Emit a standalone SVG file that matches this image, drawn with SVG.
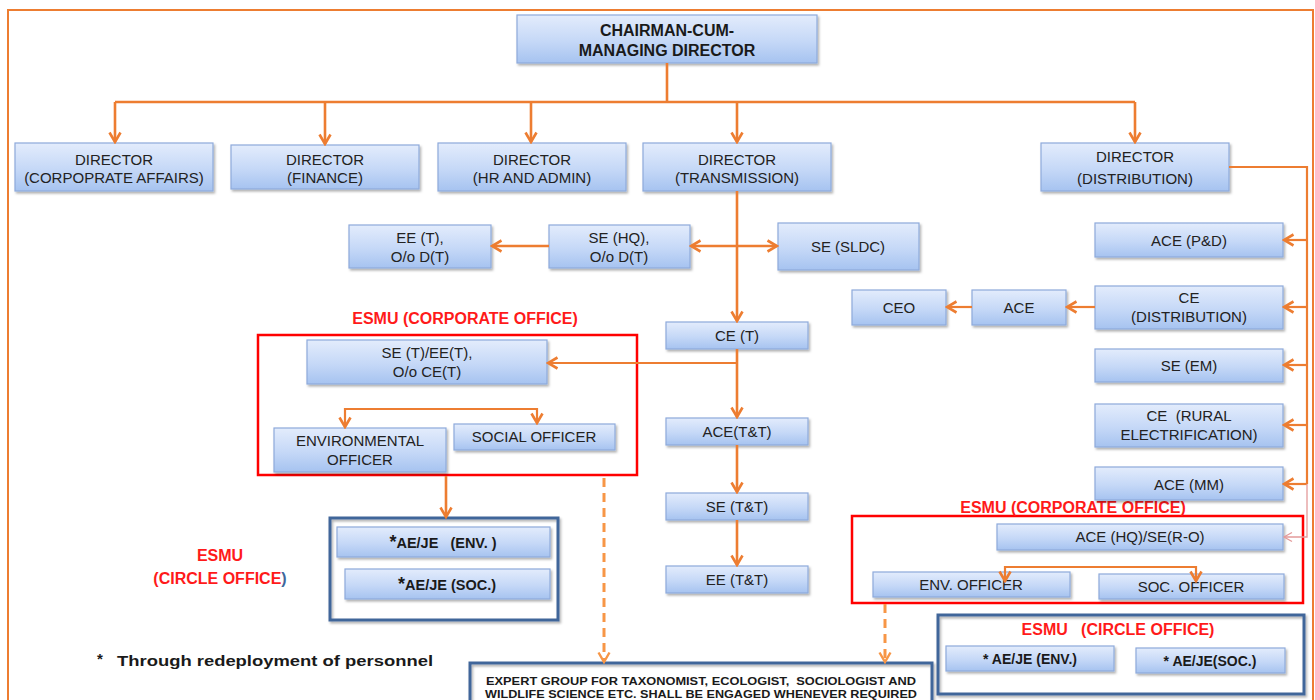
<svg xmlns="http://www.w3.org/2000/svg" width="1315" height="700" viewBox="0 0 1315 700">
<defs>
<linearGradient id="bx" x1="0" y1="0" x2="0" y2="1">
<stop offset="0" stop-color="#e3ecfc"/>
<stop offset="0.55" stop-color="#c5d8f7"/>
<stop offset="1" stop-color="#a6c3f0"/>
</linearGradient>
<filter id="sh" x="-10%" y="-20%" width="125%" height="150%">
<feDropShadow dx="1.5" dy="2" stdDeviation="1.2" flood-color="#000" flood-opacity="0.3"/>
</filter>
<marker id="ar" viewBox="0 0 14 14" refX="12" refY="7" markerWidth="14" markerHeight="14" markerUnits="userSpaceOnUse" orient="auto-start-reverse">
<path d="M2.5,1.5 L12,7 L2.5,12.5" fill="none" stroke="#ED7D31" stroke-width="2.6"/>
</marker>
<marker id="ard" viewBox="0 0 14 14" refX="12" refY="7" markerWidth="14" markerHeight="14" markerUnits="userSpaceOnUse" orient="auto">
<path d="M2.5,1.5 L12,7 L2.5,12.5" fill="none" stroke="#F79646" stroke-width="2.4"/>
</marker>
<marker id="arp" viewBox="0 0 12 12" refX="10" refY="6" markerWidth="12" markerHeight="12" markerUnits="userSpaceOnUse" orient="auto">
<path d="M2,1.5 L10,6 L2,10.5" fill="none" stroke="#e49a9a" stroke-width="1.3"/>
</marker>
</defs>
<style>
.b{fill:url(#bx);stroke:#8eaadb;stroke-width:1.2;filter:url(#sh)}
.t{font-family:"Liberation Sans",Arial,sans-serif;fill:#222;text-anchor:middle;font-size:15px}
.tb{font-family:"Liberation Sans",Arial,sans-serif;fill:#1a1a1a;text-anchor:middle;font-weight:bold}
.ts{font-family:"Liberation Sans",Arial,sans-serif;fill:#1a1a1a;text-anchor:start;font-weight:bold}
.red{font-family:"Liberation Sans",Arial,sans-serif;fill:#ff1a1a;text-anchor:middle;font-weight:bold;font-size:16px}
.c{fill:none;stroke:#ED7D31;stroke-width:2.6}
.ct{fill:none;stroke:#ED7D31;stroke-width:2.2}
.cd{fill:none;stroke:#F79646;stroke-width:3;stroke-dasharray:9,6}
.rb{fill:none;stroke:#ff0000;stroke-width:2.5}
.bb{fill:none;stroke:#41669a;stroke-width:3;filter:url(#sh)}
</style>
<rect width="1315" height="700" fill="#ffffff"/>
<rect x="8" y="10" width="1305" height="700" fill="none" stroke="#ED7D31" stroke-width="2"/>

<g id="esmu-frames">
<rect class="rb" x="258" y="335" width="379" height="140"/>
<text class="red" x="465" y="324">ESMU (CORPORATE OFFICE)</text>
<rect class="bb" x="330" y="518" width="228" height="102"/>
<text class="red" x="220" y="561">ESMU</text>
<text class="red" x="220" y="584">(CIRCLE OFFICE<tspan fill="#41669a">)</tspan></text>
<rect class="rb" x="852" y="516" width="451" height="87"/>
<text class="red" x="1073" y="513">ESMU (CORPORATE OFFICE)</text>
<rect class="bb" x="938" y="615" width="366" height="79"/>
<text class="red" x="1118" y="635" xml:space="preserve">ESMU   (CIRCLE OFFICE)</text>
</g>

<g id="cmd"><rect class="b" x="517" y="15" width="300" height="48"/>
<text class="tb" x="667" y="36" font-size="16">CHAIRMAN-CUM-</text>
<text class="tb" x="667" y="56" font-size="16">MANAGING DIRECTOR</text></g>

<g id="dir-ca"><rect class="b" x="15" y="143" width="198" height="48"/>
<text class="t" x="114" y="165" font-size="16">DIRECTOR</text>
<text class="t" x="114" y="183" font-size="12">(CORPOPRATE AFFAIRS)</text></g>
<g id="dir-fin"><rect class="b" x="231" y="145" width="188" height="44"/>
<text class="t" x="325" y="165" font-size="16">DIRECTOR</text>
<text class="t" x="325" y="183" font-size="12">(FINANCE)</text></g>
<g id="dir-hr"><rect class="b" x="438" y="143" width="188" height="48"/>
<text class="t" x="532" y="165" font-size="16">DIRECTOR</text>
<text class="t" x="532" y="183" font-size="12">(HR AND ADMIN)</text></g>
<g id="dir-tr"><rect class="b" x="643" y="143" width="188" height="48"/>
<text class="t" x="737" y="165" font-size="16">DIRECTOR</text>
<text class="t" x="737" y="183" font-size="12">(TRANSMISSION)</text></g>
<g id="dir-dist"><rect class="b" x="1041" y="143" width="188" height="48"/>
<text class="t" x="1135" y="162" font-size="16">DIRECTOR</text>
<text class="t" x="1135" y="184" font-size="16">(DISTRIBUTION)</text></g>

<g id="ee-t"><rect class="b" x="349" y="225" width="142" height="43"/>
<text class="t" x="420" y="243">EE (T),</text><text class="t" x="420" y="262">O/o D(T)</text></g>
<g id="se-hq"><rect class="b" x="549" y="225" width="141" height="43"/>
<text class="t" x="619" y="243">SE (HQ),</text><text class="t" x="619" y="262">O/o D(T)</text></g>
<g id="se-sldc"><rect class="b" x="778" y="223" width="141" height="47"/>
<text class="t" x="848" y="252">SE (SLDC)</text></g>
<g id="ce-t"><rect class="b" x="666" y="322" width="142" height="27"/>
<text class="t" x="737" y="341">CE (T)</text></g>
<g id="se-ee-t"><rect class="b" x="307" y="340" width="240" height="44"/>
<text class="t" x="427" y="358">SE (T)/EE(T),</text><text class="t" x="427" y="377">O/o CE(T)</text></g>
<g id="env-off"><rect class="b" x="274" y="428" width="172" height="44"/>
<text class="t" x="360" y="446">ENVIRONMENTAL</text><text class="t" x="360" y="465">OFFICER</text></g>
<g id="soc-off"><rect class="b" x="454" y="424" width="161" height="26"/>
<text class="t" x="534" y="442">SOCIAL OFFICER</text></g>
<g id="ace-tt"><rect class="b" x="666" y="418" width="142" height="27"/>
<text class="t" x="737" y="437">ACE(T&amp;T)</text></g>
<g id="se-tt"><rect class="b" x="666" y="493" width="142" height="27"/>
<text class="t" x="737" y="512">SE (T&amp;T)</text></g>
<g id="ee-tt"><rect class="b" x="666" y="566" width="142" height="27"/>
<text class="t" x="737" y="585">EE (T&amp;T)</text></g>
<g id="aeje-env-c"><rect class="b" x="337" y="527" width="213" height="30"/>
<text class="tb" x="443" y="548" font-size="14.5" xml:space="preserve"><tspan font-size="18">*</tspan>AE/JE   (ENV. )</text></g>
<g id="aeje-soc-c"><rect class="b" x="345" y="569" width="205" height="30"/>
<text class="tb" x="447" y="590" font-size="14.5"><tspan font-size="18">*</tspan>AE/JE (SOC.)</text></g>

<g id="ace-pd"><rect class="b" x="1095" y="223" width="188" height="34"/>
<text class="t" x="1189" y="246">ACE (P&amp;D)</text></g>
<g id="ce-dist"><rect class="b" x="1095" y="286" width="188" height="43"/>
<text class="t" x="1189" y="303">CE</text><text class="t" x="1189" y="322">(DISTRIBUTION)</text></g>
<g id="se-em"><rect class="b" x="1095" y="349" width="188" height="33"/>
<text class="t" x="1189" y="371">SE (EM)</text></g>
<g id="ce-rural"><rect class="b" x="1095" y="404" width="188" height="43"/>
<text class="t" x="1189" y="421" xml:space="preserve">CE  (RURAL</text><text class="t" x="1189" y="440">ELECTRIFICATION)</text></g>
<g id="ace-mm"><rect class="b" x="1095" y="467" width="188" height="33"/>
<text class="t" x="1189" y="490">ACE (MM)</text></g>
<g id="ace"><rect class="b" x="972" y="290" width="94" height="35"/>
<text class="t" x="1019" y="313">ACE</text></g>
<g id="ceo"><rect class="b" x="852" y="290" width="94" height="35"/>
<text class="t" x="899" y="313">CEO</text></g>
<g id="ace-hq"><rect class="b" x="997" y="524" width="286" height="26"/>
<text class="t" x="1140" y="542">ACE (HQ)/SE(R-O)</text></g>
<g id="env-officer"><rect class="b" x="873" y="572" width="197" height="25"/>
<text class="t" x="971" y="590">ENV. OFFICER</text></g>
<g id="soc-officer"><rect class="b" x="1099" y="574" width="185" height="25"/>
<text class="t" x="1191" y="592">SOC. OFFICER</text></g>
<g id="aeje-env-r"><rect class="b" x="946" y="646" width="168" height="25"/>
<text class="tb" x="1030" y="664" font-size="14">* AE/JE (ENV.)</text></g>
<g id="aeje-soc-r"><rect class="b" x="1136" y="648" width="149" height="25"/>
<text class="tb" x="1210" y="666" font-size="14">* AE/JE(SOC.)</text></g>

<g id="expert"><rect class="bb" x="470" y="663" width="462" height="45"/>
<text class="tb" x="701" y="685" font-size="10.5" textLength="430" lengthAdjust="spacingAndGlyphs" xml:space="preserve">EXPERT GROUP FOR TAXONOMIST, ECOLOGIST,  SOCIOLOGIST AND</text>
<text class="tb" x="701" y="698" font-size="10.5" textLength="432" lengthAdjust="spacingAndGlyphs">WILDLIFE SCIENCE ETC. SHALL BE ENGAGED WHENEVER REQUIRED</text></g>

<g id="footnote">
<text class="ts" x="97" y="664" font-size="15">*</text>
<text class="ts" x="117" y="666" font-size="15" textLength="316" lengthAdjust="spacingAndGlyphs">Through redeployment of personnel</text>
</g>

<g id="connectors">
<path class="c" d="M667,63 V102"/>
<path class="c" d="M115,102 H1135"/>
<path class="c" d="M115,102 V142" marker-end="url(#ar)"/>
<path class="c" d="M325,102 V144" marker-end="url(#ar)"/>
<path class="c" d="M531,102 V142" marker-end="url(#ar)"/>
<path class="c" d="M737,102 V142" marker-end="url(#ar)"/>
<path class="c" d="M1135,102 V142" marker-end="url(#ar)"/>
<path class="c" d="M737,191 V321" marker-end="url(#ar)"/>
<path class="c" d="M691,246 H777" marker-start="url(#ar)" marker-end="url(#ar)"/>
<path class="c" d="M549,246 H492" marker-end="url(#ar)"/>
<path class="c" d="M737,349 V417" marker-end="url(#ar)"/>
<path class="ct" d="M737,363 H548" marker-end="url(#ar)"/>
<path class="c" d="M737,445 V492" marker-end="url(#ar)"/>
<path class="c" d="M737,520 V565" marker-end="url(#ar)"/>
<path class="ct" d="M345,427 V409 H537 V423" marker-start="url(#ar)" marker-end="url(#ar)"/>
<path class="c" d="M446,476 V517" marker-end="url(#ar)"/>
<path class="cd" d="M604,478 V662" marker-end="url(#ard)"/>
<path class="cd" d="M885,604 V662" marker-end="url(#ard)"/>
<path class="ct" d="M1229,167 H1307 V484"/>
<path class="ct" d="M1307,240 H1284" marker-end="url(#ar)"/>
<path class="ct" d="M1307,307 H1284" marker-end="url(#ar)"/>
<path class="ct" d="M1307,365 H1284" marker-end="url(#ar)"/>
<path class="ct" d="M1307,425 H1284" marker-end="url(#ar)"/>
<path class="ct" d="M1307,484 H1284" marker-end="url(#ar)"/>
<path d="M1307,484 V537 H1284" fill="none" stroke="#e49a9a" stroke-width="1.3" marker-end="url(#arp)"/>
<path class="ct" d="M1095,307 H1067" marker-end="url(#ar)"/>
<path class="ct" d="M972,307 H947" marker-end="url(#ar)"/>
<path class="ct" d="M1005,581 V567 H1196 V581" marker-start="url(#ar)" marker-end="url(#ar)"/>
</g>
</svg>
